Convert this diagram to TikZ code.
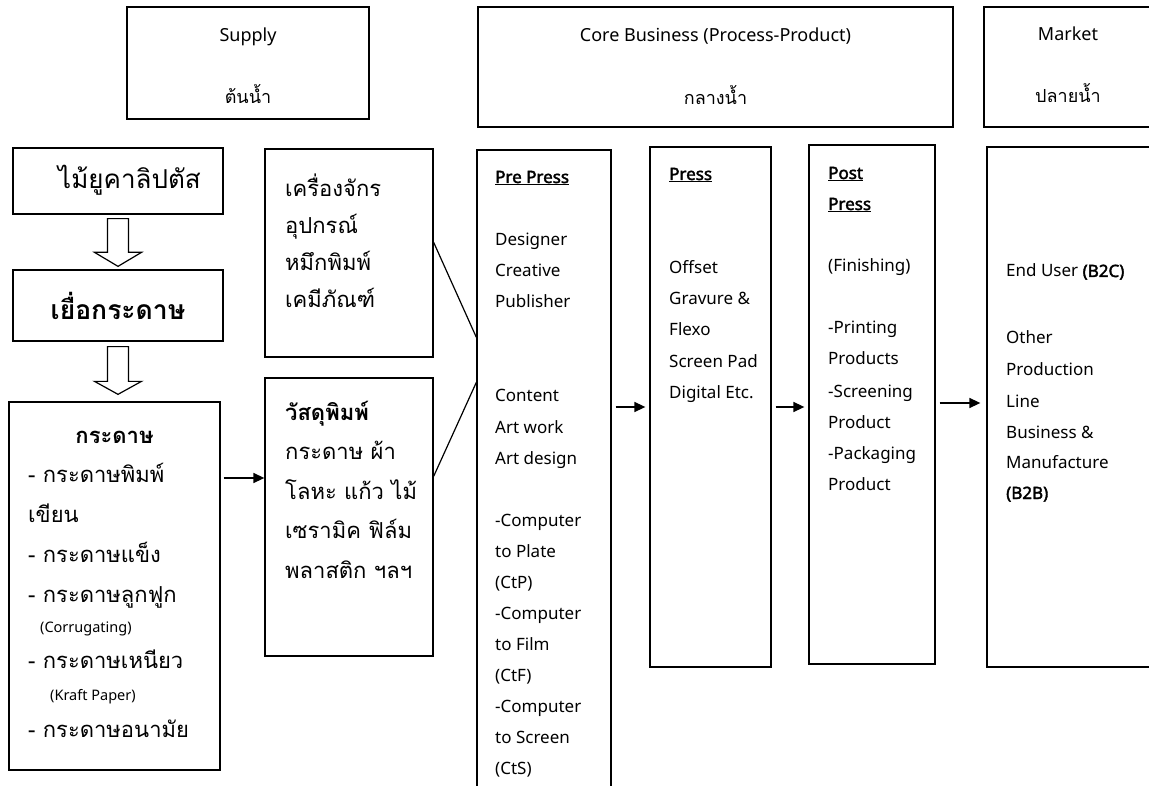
\documentclass[tikz,border=0pt]{standalone}
\usepackage{fontspec}
\setmainfont{Noto Sans}[AutoFakeBold=2.2]
\newfontfamily\thai[Script=Thai]{Loma}
\usetikzlibrary{arrows.meta,calc}
\begin{document}
\begin{tikzpicture}[x=1pt,y=-1pt,
  box/.style={draw,line width=1.3pt,inner sep=0pt},
  lat/.style={font={\fontsize{17}{20}\selectfont},inner sep=0pt,anchor=base west},
  hlat/.style={font={\fontsize{18}{22}\selectfont},inner sep=0pt,anchor=base},
  hth/.style={font={\thai\fontsize{18}{22}\selectfont},inner sep=0pt,anchor=base},
  th/.style={font={\thai\fontsize{22}{26}\selectfont},inner sep=0pt,anchor=base west},
  sm/.style={font={\fontsize{14.5}{17}\selectfont},inner sep=0pt,anchor=base west},
  arr/.style={line width=1.4pt,-{Triangle[length=11pt,width=10pt]}},
  conn/.style={line width=1.2pt},
  hollow/.style={draw,line width=1.2pt,fill=white,line join=miter}]
\useasboundingbox (0,0) rectangle (1149,786);
\fill[white] (0,0) rectangle (1149,786);

% header boxes
\node[box,minimum width=242pt,minimum height=112pt] (hsup) at (248,63) {};
\node[box,minimum width=475pt,minimum height=120pt] (hcore) at (715.5,67) {};
\node[box,minimum width=168pt,minimum height=120pt] (hmkt) at (1068,67) {};
\node[hlat] (tsup) at (248,42) {Supply};
\node[hth] (tsupth) at (248,104) {ต้นน้ำ};
\node[hlat] (tcore) at (715.5,42) {Core Business (Process-Product)};
\node[hth] (tcoreth) at (715.5,105) {กลางน้ำ};
\node[hlat] (tmkt) at (1068,41) {Market};
\node[hth] (tmktth) at (1068,103) {ปลายน้ำ};

% supply column
\node[box,minimum width=210pt,minimum height=66pt] (euc) at (118,181) {};
\node[font={\thai\fontsize{26}{30}\selectfont},inner sep=0pt,anchor=base west] (euct) at (58,189) {ไม้ยูคาลิปตัส};
\node[box,minimum width=210pt,minimum height=71pt,font={\thai\bfseries\fontsize{26.5}{30}\selectfont}] (pulp) at (118,305.5) {เยื่อกระดาษ};
\node[box,minimum width=211pt,minimum height=368pt] (paper) at (114.5,586) {};
\node[box,minimum width=168pt,minimum height=208pt] (mach) at (349,253) {};
\node[box,minimum width=168pt,minimum height=278pt] (mat) at (349,517) {};

% core column
\node[box,minimum width=134pt,minimum height=650pt] (pre) at (544,475) {};
\node[box,minimum width=121pt,minimum height=520pt] (press) at (710.5,407) {};
\node[box,minimum width=126pt,minimum height=519pt] (post) at (872,404.5) {};
\node[box,minimum width=165pt,minimum height=520pt] (mkt) at (1069.5,407) {};

% texts of the paper box
\node[font={\thai\bfseries\fontsize{22}{26}\selectfont},inner sep=0pt,anchor=base] (papt) at (114.5,443) {กระดาษ};
\foreach \yy/\lab [count=\i] in {482/- กระดาษพิมพ์,522/เขียน,562/- กระดาษแข็ง,602/- กระดาษลูกฟูก,668/- กระดาษเหนียว,737/- กระดาษอนามัย}
  \node[th] (pa\i) at (28,\yy) {\lab};
\node[sm] (corr) at (40,632) {(Corrugating)};
\node[sm] (kraft) at (50,700) {(Kraft Paper)};

% machine / material texts
\foreach \yy/\lab [count=\i] in {197/เครื่องจักร,234/อุปกรณ์,271/หมึกพิมพ์,308/เคมีภัณฑ์}
  \node[th] (ma\i) at (285,\yy) {\lab};
\foreach \yy/\lab [count=\i] in {420/{\textbf{วัสดุพิมพ์}},459/กระดาษ ผ้า,499/โลหะ แก้ว ไม้,538/เซรามิค ฟิล์ม,578/พลาสติก ฯลฯ}
  \node[th] (mt\i) at (285,\yy) {\lab};

% pre press
\foreach \yy/\lab [count=\i] in {183/{\underline{\textbf{Pre Press}}},246/Designer,277/Creative,308/Publisher,402/Content,433/Art work,464/Art design,526/-Computer,557/to Plate,588/(CtP),619/-Computer,650/to Film,681/(CtF),712/-Computer,743/to Screen,774/(CtS)}
  \node[lat] (pp\i) at (495,\yy) {\lab};
% press
\foreach \yy/\lab [count=\i] in {180/{\underline{\textbf{Press}}},274/Offset,305/Gravure \&,336/Flexo,367/Screen Pad,398/Digital Etc.}
  \node[lat] (pr\i) at (669,\yy) {\lab};
% post press
\foreach \yy/\lab [count=\i] in {179/{\underline{\textbf{Post}}},210/{\underline{\textbf{Press}}},272/(Finishing),334/-Printing,365/Products,397/-Screening,428/Product,459/-Packaging,490/Product}
  \node[lat] (po\i) at (828,\yy) {\lab};
% market
\foreach \yy/\lab [count=\i] in {277/{End User \textbf{(B2C)}},344/Other,375/Production,407/Line,438/Business \&,468/Manufacture,499/{\textbf{(B2B)}}}
  \node[lat] (mk\i) at (1006,\yy) {\lab};

% hollow arrows
\coordinate (t1) at ($(euc.south |- pulp.north)+(0,-3)$);
\draw[hollow] ($(euc.south)+(-10.5,4)$) -- ($(euc.south)+(10.5,4)$) -- ($(t1)+(10.5,-14)$) -- ($(t1)+(23.5,-14)$) -- (t1) -- ($(t1)+(-23.5,-14)$) -- ($(t1)+(-10.5,-14)$) -- cycle;
\coordinate (t2) at ($(pulp.south |- paper.north)+(0,-7)$);
\draw[hollow] ($(pulp.south)+(-10.5,5)$) -- ($(pulp.south)+(10.5,5)$) -- ($(t2)+(10.5,-13)$) -- ($(t2)+(23.5,-13)$) -- (t2) -- ($(t2)+(-23.5,-13)$) -- ($(t2)+(-10.5,-13)$) -- cycle;

% connectors
\coordinate (ya) at (0,478);
\coordinate (yb) at (0,407);
\coordinate (yc) at (0,403);
\draw[arr,shorten <=3pt] (paper.east |- ya) -- (mat.west |- ya);
\draw[arr,shorten <=4pt,shorten >=4pt] (pre.east |- yb) -- (press.west |- yb);
\draw[arr,shorten <=4pt,shorten >=4pt] (press.east |- yb) -- (post.west |- yb);
\draw[arr,shorten <=4pt,shorten >=6pt] (post.east |- yc) -- (mkt.west |- yc);
\draw[conn] ($(mach.north east)+(0,94)$) -- ($(pre.north west)+(0,188)$);
\draw[conn] ($(mat.north east)+(0,99)$) -- ($(pre.north west)+(0,233)$);
\end{tikzpicture}
\end{document}
